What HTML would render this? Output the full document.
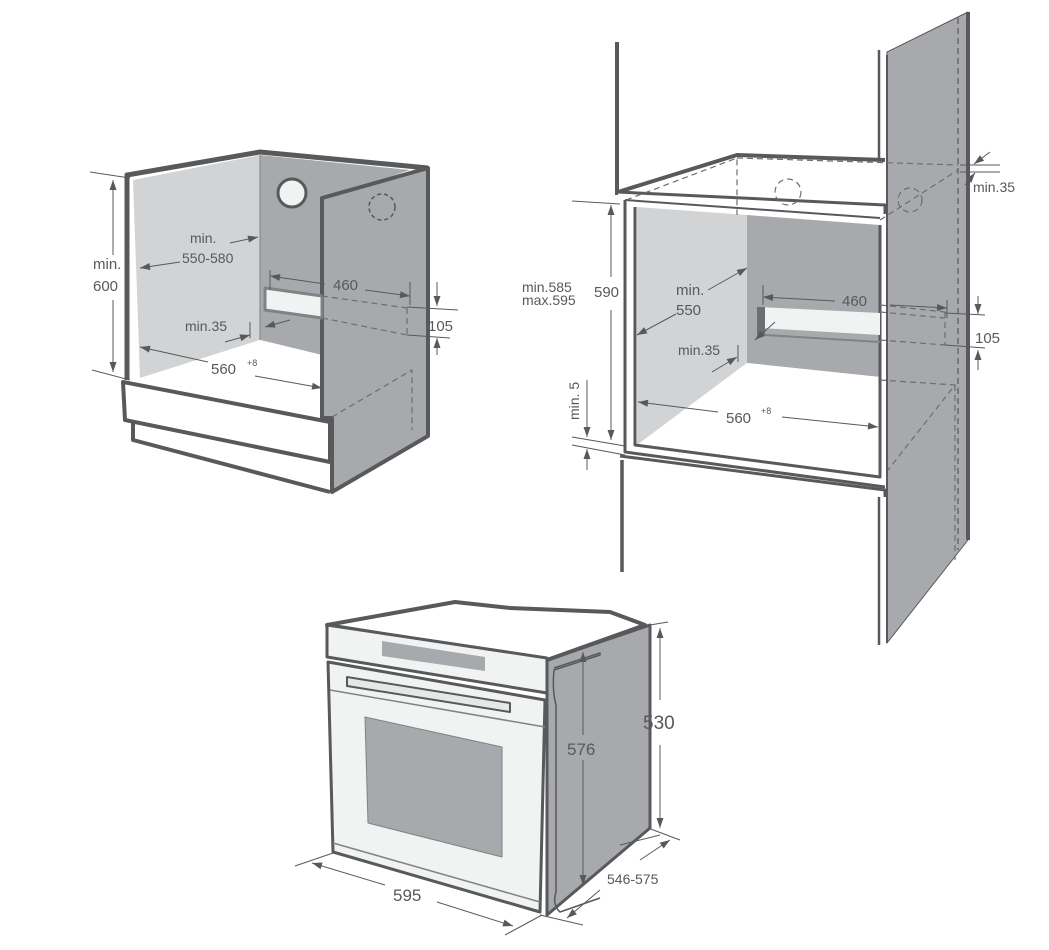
<!DOCTYPE html>
<html><head><meta charset="utf-8"><style>
html,body{margin:0;padding:0;background:#fff;width:1049px;height:950px;overflow:hidden}
svg{display:block}
text{font-family:"Liberation Sans",sans-serif;fill:#58595b}
</style></head><body>
<svg width="1049" height="950" viewBox="0 0 1049 950" xmlns="http://www.w3.org/2000/svg">
<defs>
<marker id="a" viewBox="0 0 10 10" refX="10" refY="5" markerWidth="12" markerHeight="10" orient="auto-start-reverse"><path d="M0,1.5 L10,5 L0,8.5 z" fill="#58595b"/></marker>
</defs>
<g stroke-linejoin="round">
<!-- ===== LEFT CABINET ===== -->
<polygon points="133,180 260,155 260,340 140,378" fill="#d1d3d4"/>
<polygon points="260,155 410,170 322,200 322,355 260,340" fill="#a7a9ac"/>
<polygon points="140,378 260,340 322,355 322,418" fill="#fff"/>
<polyline points="127,380 127,175 260,152 428,168" fill="none" stroke="#58595b" stroke-width="5"/>
<line x1="260" y1="155" x2="260" y2="340" stroke="#808285" stroke-width="1"/>
<polygon points="322,198 428,168 428,436 332,492 332,418 322,418" fill="#a7a9ac" stroke="#58595b" stroke-width="4"/>
<line x1="322" y1="198" x2="322" y2="418" stroke="#58595b" stroke-width="3"/>
<polygon points="123,382 330,422 330,462 125,420" fill="#fff" stroke="#58595b" stroke-width="4"/>
<polyline points="133,420 133,440 330,492" fill="none" stroke="#58595b" stroke-width="4"/>
<circle cx="292" cy="193" r="14" fill="#f1f2f2" stroke="#58595b" stroke-width="3"/>
<circle cx="382" cy="207" r="13" fill="none" stroke="#58595b" stroke-width="1.5" stroke-dasharray="4,3"/>
<polygon points="265,288 322,296 322,318 265,310" fill="#f1f2f2" stroke="#808285" stroke-width="3"/>
<g stroke="#6d6e71" stroke-width="1.2" stroke-dasharray="6,4" fill="none">
<line x1="322" y1="296" x2="407" y2="308"/><line x1="322" y1="318" x2="407" y2="335"/>
<line x1="407" y1="308" x2="407" y2="335"/>
<polyline points="332,417 412,370 412,430"/>
</g>
<g stroke="#58595b" stroke-width="1" fill="none">
<line x1="90" y1="172" x2="130" y2="178"/><line x1="92" y1="370" x2="130" y2="380"/>
<line x1="113" y1="180" x2="113" y2="255" marker-start="url(#a)"/><line x1="113" y1="300" x2="113" y2="372" marker-end="url(#a)"/>
<line x1="180" y1="262" x2="140" y2="268" marker-end="url(#a)"/>
<line x1="230" y1="243" x2="258" y2="237" marker-end="url(#a)"/>
<line x1="270" y1="270" x2="270" y2="290"/><line x1="410" y1="282" x2="410" y2="305"/>
<line x1="270" y1="276" x2="325" y2="284" marker-start="url(#a)"/><line x1="365" y1="290" x2="410" y2="296" marker-end="url(#a)"/>
<line x1="407" y1="307" x2="458" y2="310"/><line x1="407" y1="335" x2="450" y2="338"/>
<line x1="437" y1="282" x2="437" y2="306" marker-end="url(#a)"/><line x1="437" y1="355" x2="437" y2="338" marker-end="url(#a)"/>
<line x1="250" y1="322" x2="250" y2="338"/>
<line x1="225" y1="342" x2="250" y2="335" marker-end="url(#a)"/>
<line x1="290" y1="320" x2="265" y2="327" marker-end="url(#a)"/>
<line x1="208" y1="362" x2="140" y2="347" marker-end="url(#a)"/>
<line x1="255" y1="376" x2="322" y2="388" marker-end="url(#a)"/>
</g>
<text x="93" y="269" font-size="15">min.</text><text x="93" y="291" font-size="15">600</text>
<text x="190" y="243" font-size="14">min.</text><text x="182" y="263" font-size="14">550-580</text>
<text x="333" y="290" font-size="15">460</text>
<text x="428" y="331" font-size="15">105</text>
<text x="185" y="331" font-size="14">min.35</text>
<text x="211" y="374" font-size="15">560</text><text x="247" y="366" font-size="9">+8</text>

<!-- ===== RIGHT CABINET ===== -->
<polygon points="887,52 968,12 968,540 887,643" fill="#a7a9ac" stroke="#58595b" stroke-width="1"/>
<line x1="968" y1="12" x2="968" y2="540" stroke="#58595b" stroke-width="4"/>
<line x1="887" y1="55" x2="887" y2="643" stroke="#58595b" stroke-width="2"/>
<line x1="958" y1="18" x2="958" y2="550" stroke="#58595b" stroke-width="1.2" stroke-dasharray="6,4"/>
<line x1="617" y1="42" x2="617" y2="195" stroke="#58595b" stroke-width="4"/>
<line x1="879" y1="50" x2="879" y2="160" stroke="#58595b" stroke-width="2.5"/>
<polygon points="637,207 747,215 747,363 637,445" fill="#d1d3d4"/>
<polygon points="747,215 880,225 880,377 747,363" fill="#a7a9ac"/>
<polygon points="637,445 747,363 880,377 880,477" fill="#fff"/>
<polygon points="618,192 737,155 885,160 885,205 618,200" fill="#fff" stroke="none"/>
<polyline points="618,192 737,155 885,160" fill="none" stroke="#58595b" stroke-width="4"/>
<polyline points="618,192 885,205 885,214" fill="none" stroke="#58595b" stroke-width="3"/>
<polyline points="625,200 880,218" fill="none" stroke="#58595b" stroke-width="2"/>
<polyline points="625,200 625,452 885,487" fill="none" stroke="#58595b" stroke-width="3"/>
<polyline points="635,207 635,445 880,477 880,225" fill="none" stroke="#58595b" stroke-width="3"/>
<polyline points="620,456 885,490 885,497" fill="none" stroke="#58595b" stroke-width="3"/>
<line x1="622" y1="460" x2="622" y2="572" stroke="#58595b" stroke-width="3.5"/>
<line x1="879" y1="497" x2="879" y2="645" stroke="#58595b" stroke-width="2.5"/>
<g stroke="#6d6e71" stroke-width="1.2" stroke-dasharray="6,4" fill="none">
<polyline points="626,200 737,158 737,215"/><line x1="737" y1="158" x2="958" y2="165"/>
<line x1="880" y1="220" x2="958" y2="170"/>
<circle cx="788" cy="192" r="13"/><circle cx="910" cy="200" r="12"/>
<line x1="880" y1="305" x2="945" y2="312"/><line x1="880" y1="312" x2="945" y2="318"/>
<line x1="880" y1="340" x2="945" y2="345"/><line x1="945" y1="312" x2="945" y2="345"/>
<polyline points="880,380 955,385 888,470"/><line x1="955" y1="385" x2="955" y2="560"/>
</g>
<polygon points="759,307 880,313 880,335 759,328" fill="#f1f2f2"/>
<polygon points="757,307 765,307 765,335 757,335" fill="#6d6e71"/>
<line x1="765" y1="335" x2="880" y2="342" stroke="#808285" stroke-width="2"/>
<g stroke="#58595b" stroke-width="1" fill="none">
<line x1="572" y1="201" x2="620" y2="204"/><line x1="572" y1="437" x2="625" y2="446"/><line x1="572" y1="445" x2="625" y2="455"/>
<line x1="611" y1="205" x2="611" y2="277" marker-start="url(#a)"/><line x1="611" y1="310" x2="611" y2="440" marker-end="url(#a)"/>
<line x1="587" y1="380" x2="587" y2="437" marker-end="url(#a)"/><line x1="587" y1="470" x2="587" y2="449" marker-end="url(#a)"/>
<line x1="708" y1="290" x2="747" y2="268" marker-end="url(#a)"/>
<line x1="676" y1="314" x2="637" y2="335" marker-end="url(#a)"/>
<line x1="763" y1="285" x2="763" y2="305"/><line x1="947" y1="300" x2="947" y2="318"/>
<line x1="763" y1="297" x2="835" y2="301" marker-start="url(#a)"/><line x1="890" y1="305" x2="947" y2="308" marker-end="url(#a)"/>
<line x1="945" y1="313" x2="985" y2="315"/><line x1="945" y1="345" x2="985" y2="348"/>
<line x1="978" y1="296" x2="978" y2="314" marker-end="url(#a)"/><line x1="978" y1="370" x2="978" y2="350" marker-end="url(#a)"/>
<line x1="738" y1="345" x2="738" y2="362"/>
<line x1="712" y1="372" x2="737" y2="357" marker-end="url(#a)"/>
<line x1="775" y1="322" x2="755" y2="340" marker-end="url(#a)"/>
<line x1="718" y1="412" x2="638" y2="402" marker-end="url(#a)"/>
<line x1="782" y1="417" x2="878" y2="427" marker-end="url(#a)"/>
<line x1="960" y1="165" x2="1000" y2="165"/><line x1="960" y1="172" x2="1000" y2="172"/>
<line x1="990" y1="152" x2="974" y2="164" marker-end="url(#a)"/><line x1="965" y1="185" x2="975" y2="173" marker-end="url(#a)"/>
</g>
<text x="522" y="292" font-size="14">min.585</text><text x="522" y="305" font-size="14">max.595</text>
<text x="594" y="297" font-size="15">590</text>
<text x="676" y="295" font-size="15">min.</text><text x="676" y="315" font-size="15">550</text>
<text x="842" y="306" font-size="15">460</text>
<text x="975" y="343" font-size="15">105</text>
<text x="678" y="355" font-size="14">min.35</text>
<text x="726" y="423" font-size="15">560</text><text x="761" y="414" font-size="9">+8</text>
<text x="973" y="192" font-size="14">min.35</text>
<text transform="translate(579,420) rotate(-90)" font-size="14">min. 5</text>

<!-- ===== OVEN ===== -->
<polygon points="547,660 650,625 650,828 547,915" fill="#a7a9ac" stroke="#58595b" stroke-width="3"/>
<path d="M554,668 L600,653 L600,655 L554,670 Q552,690 556,705 L556,892 Q552,905 560,912 L600,898" fill="none" stroke="#58595b" stroke-width="1.5"/>
<polygon points="327,625 455,602 510,608 610,612 645,625 547,660" fill="#fff" stroke="#58595b" stroke-width="4"/>
<polygon points="327,625 547,658 547,693 327,657" fill="#f1f2f2" stroke="#58595b" stroke-width="3"/>
<polygon points="382,641 485,657 485,671 382,656" fill="#a7a9ac"/>
<polygon points="328,662 545,700 540,912 333,852" fill="#f1f2f2" stroke="#58595b" stroke-width="3"/>
<polygon points="365,717 502,747 502,857 368,823" fill="#a7a9ac" stroke="#808285" stroke-width="1"/>
<polygon points="347,677 510,703 510,712 347,686" fill="#e6e7e8" stroke="#58595b" stroke-width="2"/>
<line x1="330" y1="690" x2="545" y2="727" stroke="#808285" stroke-width="1.5"/>
<line x1="333" y1="843" x2="540" y2="902" stroke="#808285" stroke-width="1.5"/>
<g stroke="#58595b" stroke-width="1" fill="none">
<line x1="650" y1="625" x2="668" y2="622"/><line x1="648" y1="828" x2="680" y2="840"/>
<line x1="660" y1="628" x2="660" y2="700" marker-start="url(#a)"/><line x1="660" y1="745" x2="660" y2="828" marker-end="url(#a)"/>
<line x1="583" y1="652" x2="583" y2="735" marker-start="url(#a)"/><line x1="583" y1="760" x2="583" y2="885" marker-end="url(#a)"/>
<line x1="295" y1="866" x2="333" y2="853"/><line x1="505" y1="935" x2="542" y2="915"/>
<line x1="312" y1="863" x2="385" y2="885" marker-start="url(#a)"/><line x1="437" y1="902" x2="513" y2="926" marker-end="url(#a)"/>
<line x1="540" y1="915" x2="583" y2="925"/>
<line x1="620" y1="845" x2="660" y2="835" /><line x1="640" y1="860" x2="670" y2="840" marker-end="url(#a)"/>
<line x1="600" y1="890" x2="567" y2="918" marker-end="url(#a)"/>
</g>
<text x="643" y="729" font-size="19">530</text>
<text x="567" y="755" font-size="17">576</text>
<text x="607" y="884" font-size="14">546-575</text>
<text x="393" y="901" font-size="17">595</text>
</g>
</svg>
</body></html>
